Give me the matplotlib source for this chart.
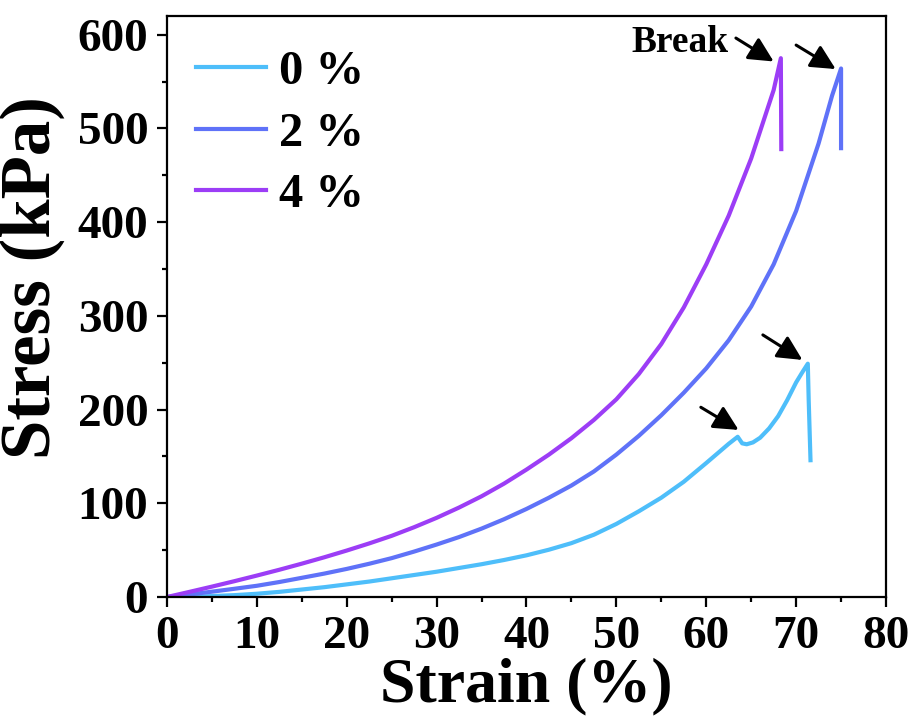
import numpy as np
import matplotlib
matplotlib.use('Agg')
import matplotlib.pyplot as plt

plt.rcParams['font.family'] = ['Liberation Serif', 'DejaVu Serif']
plt.rcParams['font.weight'] = 'bold'

# datos
strain_0 = [0, 2.5, 5, 7.5, 10, 12.5, 15, 17.5, 20, 22.5, 25, 27.5, 30, 32.5, 35, 37.5,
            40, 42.5, 45, 47.5, 50, 52.5, 55, 57.5, 60, 62.5, 63.5, 64.0, 64.5, 65.2,
            66, 67, 68, 69, 70, 70.7, 71.3, 71.4, 71.6]
stress_0 = [0, 0.3, 1, 2, 3.5, 5.5, 8, 10.5, 13.5, 16.5, 20, 23.5, 27, 31, 35, 39.5,
            44.5, 50.5, 57.5, 66.5, 78, 91.5, 106, 123, 143, 163.5, 171, 164, 163, 165,
            170, 180, 193, 210, 229, 240, 249, 210, 146]

strain_2 = [0, 2.5, 5, 7.5, 10, 12.5, 15, 17.5, 20, 22.5, 25, 27.5, 30, 32.5, 35, 37.5,
            40, 42.5, 45, 47.5, 50, 52.5, 55, 57.5, 60, 62.5, 65, 67.5, 70, 72.5,
            74, 75.0, 75.0]
stress_2 = [0, 2.7, 5.7, 8.8, 12, 16, 20.5, 25, 30, 35.5, 41.5, 48.5, 56, 64, 73, 83,
            94, 106, 119, 134, 152, 172, 194, 218, 244, 274, 310, 355, 412, 484,
            535, 564, 479]

strain_4 = [0, 2.5, 5, 7.5, 10, 12.5, 15, 17.5, 20, 22.5, 25, 27.5, 30, 32.5, 35, 37.5,
            40, 42.5, 45, 47.5, 50, 52.5, 55, 57.5, 60, 62.5, 65, 67.5, 68.3, 68.35]
stress_4 = [0, 5.5, 11.1, 16.9, 22.9, 29.1, 35.6, 42.4, 49.6, 57.2, 65.3, 74.5, 84.5,
            95.5, 107.5, 121, 136, 152, 169.5, 189, 211, 238, 270, 309, 355, 407, 468,
            541, 575, 478]

labels = ['0 %', '2 %', '4 %']
colores = ['#4EBEFA', '#5F72F8', '#9C3DF6']

# flechas (cola, punta) en coordenadas de datos
flechas = [((63.3, 596.5), (67.5, 571.5)),
           ((70.0, 589.0), (74.4, 563.4)),
           ((66.3, 279.7), (70.7, 253.0)),
           ((59.4, 202.5), (63.6, 178.3))]

fig = plt.figure(figsize=(9.15, 7.22), dpi=100)
ax = fig.add_axes([0.1825, 0.1731, 0.7858, 0.8047])

ax.plot(strain_0, stress_0, color=colores[0], lw=3, label=labels[0])
ax.plot(strain_2, stress_2, color=colores[1], lw=3, label=labels[1])
ax.plot(strain_4, stress_4, color=colores[2], lw=3, label=labels[2])

for cola, punta in flechas:
    ax.annotate('', xy=punta, xytext=cola,
                arrowprops=dict(arrowstyle='-|>,head_length=0.5,head_width=0.25',
                                color='black', lw=2.2, mutation_scale=30,
                                shrinkA=0, shrinkB=0))
ax.text(57.1, 582, 'Break', ha='center', va='baseline', fontsize=27, fontweight='bold')

ax.set_xlim(0, 80)
ax.set_ylim(0, 620)
ax.set_xticks(np.arange(0, 81, 10))
ax.set_xticks(np.arange(5, 80, 10), minor=True)
ax.set_yticks(np.arange(0, 601, 100))
ax.set_yticks(np.arange(50, 600, 100), minor=True)
ax.tick_params(which='major', direction='out', length=7.5, width=1.6, labelsize=34, pad=6)
ax.tick_params(which='minor', direction='out', length=3.8, width=1.6)
for s in ax.spines.values():
    s.set_linewidth(1.6)

ax.set_xlabel('Strain (%)', fontsize=46, fontweight='bold', labelpad=0)
ax.set_ylabel('Stress (kPa)', fontsize=51, fontweight='bold')
ax.yaxis.set_label_coords(-0.142, 0.55)

ax.legend(loc='upper left', bbox_to_anchor=(-0.007, 1.0), frameon=False, fontsize=35,
          handlelength=1.45, handletextpad=0.25, labelspacing=0.36,
          borderaxespad=0.4, borderpad=0.3)

plt.savefig('out.png', dpi=100)
